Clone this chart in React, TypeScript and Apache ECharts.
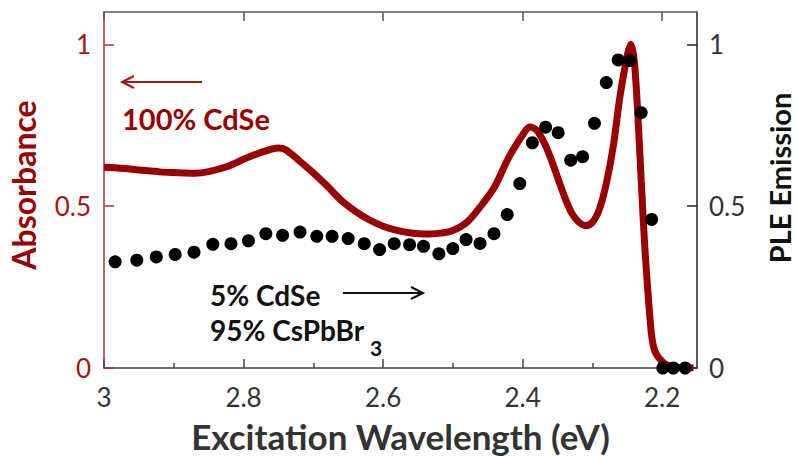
import React, { useEffect, useRef } from "react";
import * as echarts from "echarts";

const absX = [3.0, 2.98, 2.95, 2.92, 2.9, 2.87, 2.85, 2.82, 2.8, 2.78, 2.76, 2.75, 2.74, 2.72, 2.7, 2.68, 2.66, 2.64, 2.62, 2.6, 2.58, 2.56, 2.54, 2.52, 2.5, 2.48, 2.46, 2.44, 2.42, 2.4, 2.39, 2.38, 2.37, 2.36, 2.35, 2.34, 2.33, 2.32, 2.31, 2.3, 2.29, 2.28, 2.27, 2.26, 2.25, 2.245, 2.24, 2.235, 2.23, 2.225, 2.22, 2.215, 2.21, 2.2, 2.19, 2.18, 2.155];
const absY = [0.62, 0.618, 0.612, 0.606, 0.604, 0.602, 0.607, 0.625, 0.645, 0.662, 0.676, 0.68, 0.675, 0.64, 0.603, 0.562, 0.518, 0.485, 0.458, 0.438, 0.425, 0.417, 0.414, 0.416, 0.425, 0.45, 0.5, 0.56, 0.65, 0.72, 0.745, 0.735, 0.7, 0.65, 0.59, 0.53, 0.48, 0.452, 0.44, 0.45, 0.49, 0.57, 0.685, 0.845, 0.965, 1.0, 0.95, 0.79, 0.58, 0.38, 0.225, 0.1, 0.05, 0.02, 0.006, 0.002, 0];

const pleX = [2.984, 2.953, 2.925, 2.898, 2.871, 2.844, 2.818, 2.793, 2.768, 2.744, 2.719, 2.695, 2.673, 2.65, 2.627, 2.605, 2.584, 2.562, 2.542, 2.52, 2.5, 2.481, 2.461, 2.441, 2.422, 2.404, 2.386, 2.367, 2.349, 2.331, 2.314, 2.297, 2.28, 2.263, 2.246, 2.23, 2.215, 2.199, 2.184, 2.167];
const pleY = [0.328, 0.333, 0.343, 0.351, 0.358, 0.382, 0.384, 0.393, 0.415, 0.41, 0.42, 0.407, 0.407, 0.4, 0.384, 0.366, 0.384, 0.381, 0.376, 0.353, 0.369, 0.397, 0.385, 0.415, 0.474, 0.57, 0.696, 0.744, 0.727, 0.642, 0.653, 0.756, 0.882, 0.952, 0.95, 0.789, 0.459, 0, 0, 0];

const xMajor = [3, 2.8, 2.6, 2.4, 2.2];
const xMinor = [2.9, 2.7, 2.5, 2.3];
const yTicks = [0, 0.5, 1];

const FONT = "Lato";
const RED = "#990000";

export default function App() {
  const ref = useRef<HTMLDivElement>(null);
  useEffect(() => {
    document.body.style.margin = "0";
    const chart = echarts.init(ref.current!, null, { renderer: "svg" });
    const xBase = { type: "value", min: 2.15, max: 3, inverse: true, gridIndex: 0, splitLine: { show: false } };
    chart.setOption({
      animation: false,
      backgroundColor: "#fff",
      grid: { left: 104, right: 100, top: 12, bottom: 89, containLabel: false, outerBoundsMode: "none" },
      xAxis: [
        {
          ...xBase,
          position: "bottom",
          axisLine: { show: true, onZero: false, lineStyle: { color: "#444", width: 1.5 } },
          axisTick: { show: true, inside: true, length: 9, customValues: xMajor, lineStyle: { color: "#444", width: 1.5 } },
          axisLabel: { customValues: xMajor, margin: 16, fontSize: 26, color: "#333", fontFamily: FONT },
          name: "Excitation Wavelength (eV)",
          nameLocation: "middle",
          nameGap: 50,
          nameTextStyle: { fontSize: 35, fontWeight: "bold", color: "#333", fontFamily: FONT },
        },
        {
          ...xBase,
          position: "bottom",
          axisLine: { show: false, onZero: false },
          axisTick: { show: true, inside: true, length: 5, customValues: xMinor, lineStyle: { color: "#444", width: 1.5 } },
          axisLabel: { show: false },
        },
        {
          ...xBase,
          position: "top",
          axisLine: { show: true, onZero: false, lineStyle: { color: "#555", width: 1.5 } },
          axisTick: { show: true, inside: true, length: 9, customValues: xMajor, lineStyle: { color: "#555", width: 1.5 } },
          axisLabel: { show: false },
        },
      ],
      yAxis: [
        {
          type: "value", min: 0, max: 1.1, position: "left",
          splitLine: { show: false },
          axisLine: { show: true, onZero: false, lineStyle: { color: "#b03030", width: 1.5 } },
          axisTick: { show: true, inside: true, length: 10, customValues: yTicks, lineStyle: { color: "#b03030", width: 1.5 } },
          axisLabel: { customValues: yTicks, margin: 13, fontSize: 26, color: "#a01818", fontFamily: FONT },
        },
        {
          type: "value", min: 0, max: 1.1, position: "right",
          splitLine: { show: false },
          axisLine: { show: true, onZero: false, lineStyle: { color: "#222", width: 1.5 } },
          axisTick: { show: true, inside: true, length: 10, customValues: yTicks, lineStyle: { color: "#222", width: 1.5 } },
          axisLabel: { customValues: yTicks, margin: 12, fontSize: 26, color: "#333", fontFamily: FONT },
        },
      ],
      series: [
        {
          type: "line",
          xAxisIndex: 0,
          yAxisIndex: 0,
          data: absX.map((x, i) => [x, absY[i]]),
          showSymbol: false,
          smooth: 0.3,
          lineStyle: { color: RED, width: 7 },
          z: 2,
        },
        {
          type: "scatter",
          xAxisIndex: 0,
          yAxisIndex: 1,
          data: pleX.map((x, i) => [x, pleY[i]]),
          symbolSize: 13,
          itemStyle: { color: "#000", opacity: 1 },
          clip: false,
          z: 3,
        },
      ],
      graphic: [
        { type: "text", x: 23, y: 185, rotation: Math.PI / 2, style: { text: "Absorbance", fontSize: 32, fontWeight: "bold", fill: RED, fontFamily: FONT, align: "center", verticalAlign: "middle" } },
        { type: "text", x: 779, y: 178, rotation: Math.PI / 2, style: { text: "PLE Emission", fontSize: 29, fontWeight: "bold", fill: "#111", fontFamily: FONT, align: "center", verticalAlign: "middle" } },
        { type: "line", shape: { x1: 122, y1: 82, x2: 202, y2: 82 }, style: { stroke: "#a01818", lineWidth: 2 } },
        { type: "polyline", shape: { points: [[134, 76], [122, 82], [134, 88]] }, style: { stroke: "#a01818", lineWidth: 2, fill: null } },
        { type: "text", x: 122, y: 118, style: { text: "100% CdSe", fontSize: 29, fontWeight: "bold", fill: RED, fontFamily: FONT, align: "left", verticalAlign: "middle" } },
        { type: "text", x: 210, y: 295, style: { text: "5% CdSe", fontSize: 28, fontWeight: "bold", fill: "#111", fontFamily: FONT, align: "left", verticalAlign: "middle" } },
        { type: "line", shape: { x1: 343, y1: 293, x2: 423, y2: 293 }, style: { stroke: "#111", lineWidth: 2 } },
        { type: "polyline", shape: { points: [[411, 287], [423, 293], [411, 299]] }, style: { stroke: "#111", lineWidth: 2, fill: null } },
        { type: "text", x: 210, y: 330, style: { text: "95% CsPbBr", fontSize: 28, fontWeight: "bold", fill: "#111", fontFamily: FONT, align: "left", verticalAlign: "middle" } },
        { type: "text", x: 370, y: 347, style: { text: "3", fontSize: 21, fontWeight: "bold", fill: "#111", fontFamily: FONT, align: "left", verticalAlign: "middle" } },
      ],
    });
    return () => chart.dispose();
  }, []);
  return <div ref={ref} style={{ width: 797, height: 457 }} />;
}
